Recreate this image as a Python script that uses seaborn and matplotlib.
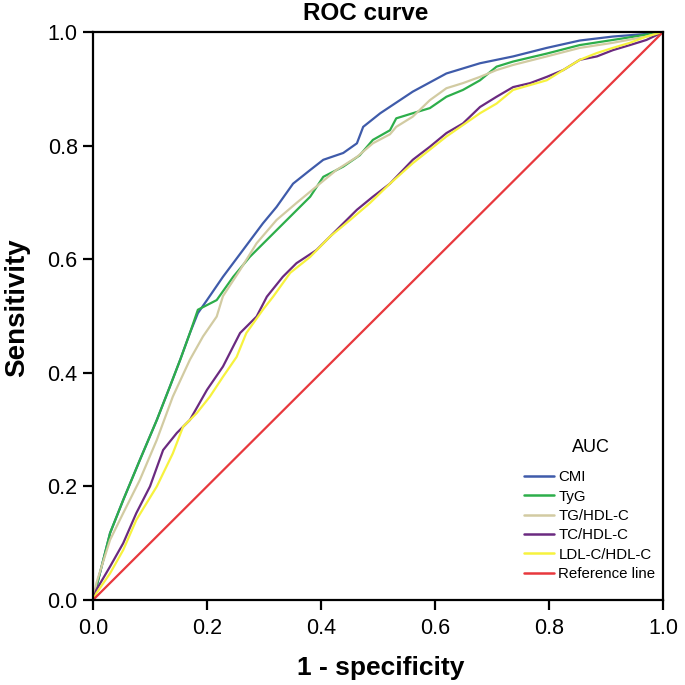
import numpy as np
import pandas as pd
import matplotlib
matplotlib.use("Agg")
import matplotlib.pyplot as plt
import seaborn as sns

# ---- data ----
cmi_fpr = [0.0, 0.006, 0.03, 0.053, 0.082, 0.112, 0.135, 0.153, 0.170, 0.184, 0.200, 0.228, 0.263, 0.298,
           0.322, 0.351, 0.381, 0.404, 0.439, 0.463, 0.474, 0.504, 0.561, 0.620, 0.679, 0.737, 0.796,
           0.854, 0.912, 0.989, 1.0]
cmi_tpr = [0.0, 0.023, 0.118, 0.176, 0.246, 0.317, 0.376, 0.423, 0.470, 0.505, 0.528, 0.569, 0.616, 0.663,
           0.692, 0.733, 0.757, 0.775, 0.787, 0.804, 0.833, 0.857, 0.895, 0.927, 0.945, 0.957, 0.972,
           0.985, 0.992, 0.998, 1.0]

tyg_fpr = [0.0, 0.006, 0.03, 0.053, 0.082, 0.112, 0.135, 0.153, 0.170, 0.184, 0.217, 0.246, 0.275, 0.305,
           0.346, 0.381, 0.404, 0.439, 0.468, 0.491, 0.521, 0.532, 0.561, 0.591, 0.620, 0.649, 0.679,
           0.708, 0.737, 0.796, 0.854, 0.912, 1.0]
tyg_tpr = [0.0, 0.023, 0.118, 0.176, 0.246, 0.317, 0.376, 0.423, 0.470, 0.511, 0.528, 0.569, 0.604, 0.634,
           0.675, 0.710, 0.745, 0.763, 0.783, 0.810, 0.827, 0.848, 0.857, 0.866, 0.886, 0.898, 0.915,
           0.939, 0.948, 0.962, 0.977, 0.986, 1.0]

tg_fpr = [0.0, 0.006, 0.03, 0.053, 0.082, 0.112, 0.140, 0.170, 0.193, 0.217, 0.228, 0.258, 0.287, 0.322,
          0.357, 0.392, 0.427, 0.463, 0.491, 0.521, 0.532, 0.561, 0.591, 0.620, 0.649, 0.679, 0.708,
          0.737, 0.796, 0.854, 0.912, 0.971, 1.0]
tg_tpr = [0.0, 0.030, 0.106, 0.153, 0.211, 0.282, 0.358, 0.423, 0.464, 0.499, 0.535, 0.581, 0.628, 0.669,
          0.699, 0.728, 0.757, 0.780, 0.804, 0.820, 0.833, 0.851, 0.880, 0.901, 0.910, 0.921, 0.933,
          0.942, 0.957, 0.972, 0.981, 0.992, 1.0]

tc_fpr = [0.0, 0.006, 0.03, 0.053, 0.076, 0.100, 0.123, 0.147, 0.170, 0.200, 0.228, 0.258, 0.287, 0.305,
          0.333, 0.357, 0.392, 0.427, 0.463, 0.491, 0.521, 0.561, 0.591, 0.620, 0.649, 0.679, 0.708,
          0.737, 0.767, 0.796, 0.825, 0.854, 0.884, 0.912, 0.942, 0.971, 1.0]
tc_tpr = [0.0, 0.018, 0.059, 0.100, 0.153, 0.200, 0.264, 0.294, 0.317, 0.370, 0.411, 0.470, 0.499, 0.534,
          0.569, 0.593, 0.616, 0.651, 0.687, 0.710, 0.733, 0.775, 0.798, 0.822, 0.839, 0.868, 0.886,
          0.903, 0.910, 0.921, 0.933, 0.951, 0.957, 0.968, 0.977, 0.986, 1.0]

ldl_fpr = [0.0, 0.006, 0.03, 0.053, 0.076, 0.112, 0.140, 0.158, 0.182, 0.205, 0.228, 0.252, 0.269, 0.298,
           0.316, 0.346, 0.381, 0.416, 0.451, 0.486, 0.521, 0.561, 0.620, 0.679, 0.708, 0.737, 0.796,
           0.854, 0.884, 0.912, 0.942, 0.971, 1.0]
ldl_tpr = [0.0, 0.012, 0.047, 0.088, 0.141, 0.200, 0.258, 0.305, 0.329, 0.358, 0.393, 0.428, 0.470, 0.511,
           0.534, 0.576, 0.604, 0.640, 0.669, 0.699, 0.733, 0.769, 0.816, 0.857, 0.874, 0.898, 0.915,
           0.951, 0.963, 0.972, 0.981, 0.992, 1.0]

ref_fpr = [0.0, 1.0]
ref_tpr = [0.0, 1.0]

labels = ["CMI", "TyG", "TG/HDL-C", "TC/HDL-C", "LDL-C/HDL-C", "Reference line"]
series = [(cmi_fpr, cmi_tpr), (tyg_fpr, tyg_tpr), (tg_fpr, tg_tpr),
          (tc_fpr, tc_tpr), (ldl_fpr, ldl_tpr), (ref_fpr, ref_tpr)]
colors = ["#3F5BAA", "#2DAE4A", "#D2CBA2", "#6B2A80", "#F7F23E", "#E8383D"]
tick_vals = [0.0, 0.2, 0.4, 0.6, 0.8, 1.0]
tick_labels = ["0.0", "0.2", "0.4", "0.6", "0.8", "1.0"]

frames = []
for lab, (fx, ty) in zip(labels, series):
    frames.append(pd.DataFrame({"fpr": fx, "tpr": ty, "curve": lab}))
df = pd.concat(frames, ignore_index=True)

sns.set_theme(style="white")
plt.rcParams["font.family"] = ["Liberation Sans", "DejaVu Sans"]
plt.rcParams["text.color"] = "black"
plt.rcParams["axes.labelcolor"] = "black"
plt.rcParams["xtick.color"] = "black"
plt.rcParams["ytick.color"] = "black"

fig = plt.figure(figsize=(6.85, 6.85), dpi=100)
ax = fig.add_axes([93 / 685, 1 - 600 / 685, 570 / 685, 568 / 685])

sns.lineplot(data=df, x="fpr", y="tpr", hue="curve", hue_order=labels,
             palette=dict(zip(labels, colors)), estimator=None, sort=False,
             linewidth=1.6, ax=ax)

ax.set_xlim(0, 1)
ax.set_ylim(0, 1)
ax.set_xticks(tick_vals)
ax.set_yticks(tick_vals)
ax.set_xticklabels(tick_labels, fontsize=15.5)
ax.set_yticklabels(tick_labels, fontsize=15.5)
ax.tick_params(axis="both", which="both", direction="out", length=7, width=1.6,
               colors="black", left=True, bottom=True)
ax.tick_params(axis="x", pad=6)
ax.tick_params(axis="y", pad=4)
for sp in ax.spines.values():
    sp.set_color("black")
    sp.set_linewidth(1.6)

ax.set_xlabel("1 - specificity", fontsize=19, fontweight="bold")
ax.xaxis.set_label_coords(0.505, -0.098)
ax.set_ylabel("Sensitivity", fontsize=20, fontweight="bold")
ax.yaxis.set_label_coords(-0.110, 0.514)
ax.text(0.479, 1.012, "ROC curve", transform=ax.transAxes, ha="center", va="bottom",
        fontsize=17.5, fontweight="bold")

leg = ax.legend(loc="lower right", bbox_to_anchor=(1.0, 0.02), frameon=False, fontsize=10.8,
                handlelength=2.0, handletextpad=0.27, labelspacing=0.36, borderaxespad=0.1)
for line in leg.get_lines():
    line.set_linewidth(1.8)
ax.text(0.874, 0.268, "AUC", transform=ax.transAxes, ha="center", va="center", fontsize=13)

fig.savefig("out.png", dpi=100)
